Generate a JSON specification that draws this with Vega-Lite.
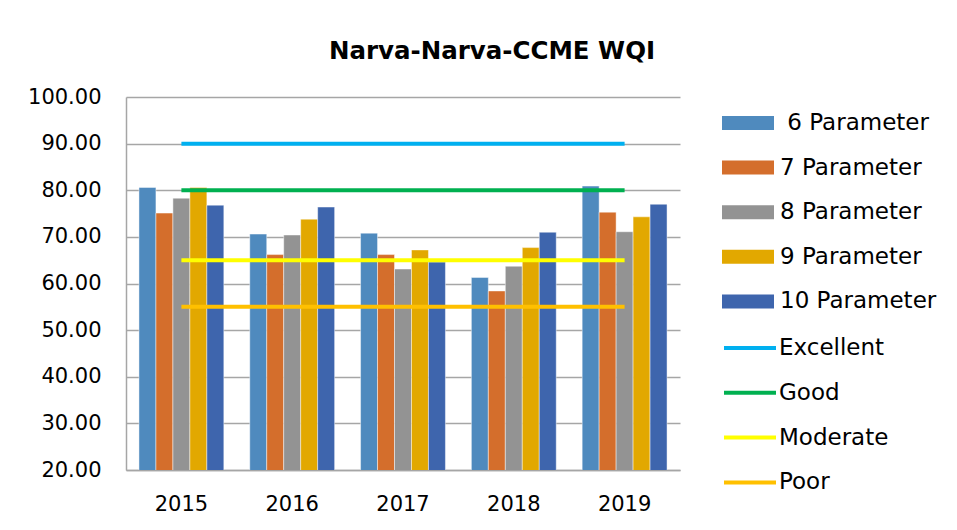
{
  "$schema": "https://vega.github.io/schema/vega-lite/v6.json",
  "width": 554,
  "height": 373,
  "autosize": {"type": "none"},
  "padding": {"left": 126, "top": 97, "right": 277, "bottom": 60},
  "background": "white",
  "config": {"font": "DejaVu Sans", "view": {"stroke": null}},
  "title": {"text": "Narva-Narva-CCME WQI", "fontSize": 24.5, "fontWeight": "bold", "color": "black", "anchor": "middle", "dx": 89, "offset": 22},
  "datasets": {
    "bars": [
      {"year": "2015", "series": "6 Parameter", "value": 80.6},
      {"year": "2015", "series": "7 Parameter", "value": 75.1},
      {"year": "2015", "series": "8 Parameter", "value": 78.3},
      {"year": "2015", "series": "9 Parameter", "value": 80.6},
      {"year": "2015", "series": "10 Parameter", "value": 76.8},
      {"year": "2016", "series": "6 Parameter", "value": 70.6},
      {"year": "2016", "series": "7 Parameter", "value": 66.2},
      {"year": "2016", "series": "8 Parameter", "value": 70.4},
      {"year": "2016", "series": "9 Parameter", "value": 73.8},
      {"year": "2016", "series": "10 Parameter", "value": 76.4},
      {"year": "2017", "series": "6 Parameter", "value": 70.8},
      {"year": "2017", "series": "7 Parameter", "value": 66.2},
      {"year": "2017", "series": "8 Parameter", "value": 63.1},
      {"year": "2017", "series": "9 Parameter", "value": 67.2},
      {"year": "2017", "series": "10 Parameter", "value": 64.6},
      {"year": "2018", "series": "6 Parameter", "value": 61.3},
      {"year": "2018", "series": "7 Parameter", "value": 58.4},
      {"year": "2018", "series": "8 Parameter", "value": 63.7},
      {"year": "2018", "series": "9 Parameter", "value": 67.7},
      {"year": "2018", "series": "10 Parameter", "value": 71.0},
      {"year": "2019", "series": "6 Parameter", "value": 80.9},
      {"year": "2019", "series": "7 Parameter", "value": 75.3},
      {"year": "2019", "series": "8 Parameter", "value": 71.1},
      {"year": "2019", "series": "9 Parameter", "value": 74.3},
      {"year": "2019", "series": "10 Parameter", "value": 77.0}
    ],
    "levels": [
      {"year": "2015", "level": "Excellent", "value": 90},
      {"year": "2016", "level": "Excellent", "value": 90},
      {"year": "2017", "level": "Excellent", "value": 90},
      {"year": "2018", "level": "Excellent", "value": 90},
      {"year": "2019", "level": "Excellent", "value": 90},
      {"year": "2015", "level": "Good", "value": 80},
      {"year": "2016", "level": "Good", "value": 80},
      {"year": "2017", "level": "Good", "value": 80},
      {"year": "2018", "level": "Good", "value": 80},
      {"year": "2019", "level": "Good", "value": 80},
      {"year": "2015", "level": "Moderate", "value": 65},
      {"year": "2016", "level": "Moderate", "value": 65},
      {"year": "2017", "level": "Moderate", "value": 65},
      {"year": "2018", "level": "Moderate", "value": 65},
      {"year": "2019", "level": "Moderate", "value": 65},
      {"year": "2015", "level": "Poor", "value": 55},
      {"year": "2016", "level": "Poor", "value": 55},
      {"year": "2017", "level": "Poor", "value": 55},
      {"year": "2018", "level": "Poor", "value": 55},
      {"year": "2019", "level": "Poor", "value": 55}
    ]
  },
  "layer": [
    {
      "data": {"name": "bars"},
      "mark": {"type": "bar", "clip": true, "stroke": "white", "strokeOpacity": 0.45, "strokeWidth": 1},
      "encoding": {
        "x": {
          "field": "year", "type": "nominal",
          "scale": {"paddingInner": 0.234, "paddingOuter": 0.117},
          "axis": {"title": null, "labelAngle": 0, "labelFontSize": 21, "labelColor": "black", "ticks": false, "tickSize": 0, "labelPadding": 23, "domainColor": "#a6a6a6", "domainWidth": 1.5}
        },
        "xOffset": {
          "field": "series", "type": "nominal",
          "scale": {"domain": ["6 Parameter", "7 Parameter", "8 Parameter", "9 Parameter", "10 Parameter"], "paddingInner": 0, "paddingOuter": 0}
        },
        "y": {
          "field": "value", "type": "quantitative",
          "scale": {"domain": [20, 100], "nice": false, "zero": false},
          "axis": {"title": null, "values": [20, 30, 40, 50, 60, 70, 80, 90, 100], "format": ".2f", "labelFontSize": 21, "labelColor": "black", "ticks": false, "tickSize": 0, "labelPadding": 25, "domainColor": "#a6a6a6", "domainWidth": 1.5, "gridColor": "#a6a6a6", "gridWidth": 1.5}
        },
        "fill": {
          "field": "series", "type": "nominal",
          "scale": {"domain": ["6 Parameter", "7 Parameter", "8 Parameter", "9 Parameter", "10 Parameter"], "range": ["#4f8abe", "#d46e2c", "#939393", "#e2a800", "#3e65ad"]},
          "legend": {"title": null, "orient": "none", "legendX": 609, "legendY": 13, "symbolType": "M-2,-0.54H2V0.54H-2Z", "symbolSize": 676, "symbolStrokeWidth": 0, "symbolOpacity": 1, "labelFontSize": 23, "labelLimit": 300, "labelColor": "black", "labelOffset": 19, "rowPadding": 19.6,
            "labelExpr": "datum.label == '6 Parameter' ? '\u200b 6 Parameter' : datum.label"}
        }
      }
    },
    {
      "data": {"name": "levels"},
      "mark": {"type": "line", "strokeWidth": 4},
      "encoding": {
        "x": {"field": "year", "type": "nominal"},
        "y": {"field": "value", "type": "quantitative"},
        "stroke": {
          "field": "level", "type": "nominal",
          "scale": {"domain": ["Excellent", "Good", "Moderate", "Poor"], "range": ["#00b0f0", "#00b050", "#ffff00", "#ffc000"]},
          "legend": {"title": null, "orient": "none", "legendX": 609, "legendY": 236, "symbolType": "M-2,0H2", "symbolSize": 676, "symbolStrokeWidth": 4, "labelFontSize": 23, "labelLimit": 300, "labelColor": "black", "labelOffset": 14, "rowPadding": 17.8}
        }
      }
    }
  ]
}
